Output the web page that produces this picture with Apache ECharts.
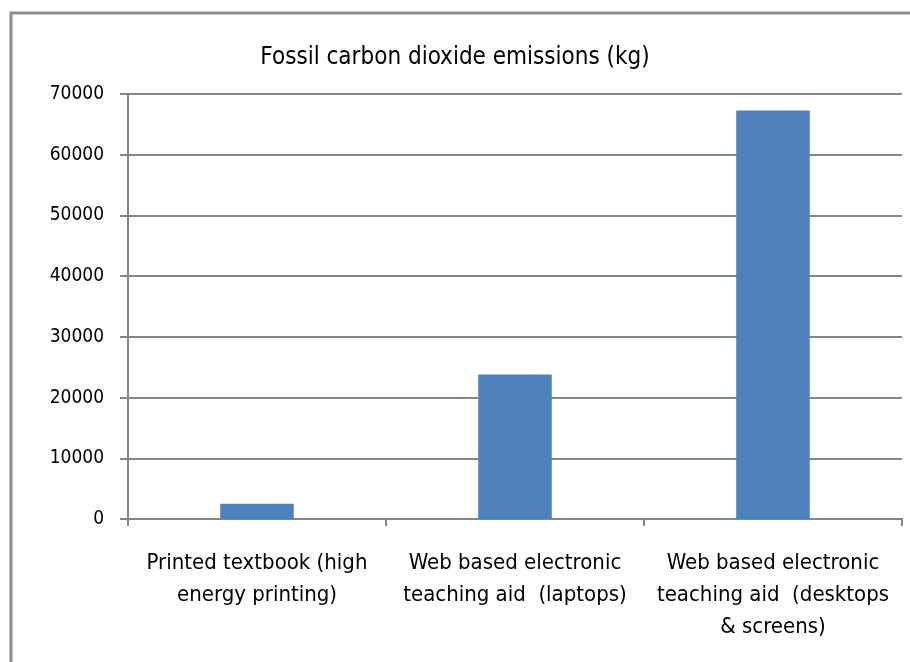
<!DOCTYPE html>
<html>
<head>
<meta charset="utf-8">
<script src="https://cdn.jsdelivr.net/npm/echarts@6/dist/echarts.min.js"></script>
<style>
  html, body { margin: 0; padding: 0; background: #fff; }
  #chart { width: 910px; height: 662px; }
</style>
</head>
<body>
<div id="chart"></div>
<script>
  var categories = [
    'Printed textbook (high\nenergy printing)',
    'Web based electronic\nteaching aid  (laptops)',
    'Web based electronic\nteaching aid  (desktops\n& screens)'
  ];
  var emissions = [2500, 23800, 67300];
  var yTicks = [0, 10000, 20000, 30000, 40000, 50000, 60000, 70000];

  var font = '"DejaVu Sans Condensed", sans-serif';
  var gray = '#868686';

  var chart = echarts.init(document.getElementById('chart'));

  chart.setOption({
    animation: false,
    title: {
      text: 'Fossil carbon dioxide emissions (kg)',
      left: 'center',
      top: 41,
      textStyle: { fontFamily: font, fontSize: 24, fontWeight: 'normal', color: '#000' }
    },
    graphic: [{
      type: 'rect',
      shape: { x: 11, y: 13, width: 960, height: 700 },
      style: { fill: null, stroke: '#8c8c8c', lineWidth: 3 },
      silent: true
    }],
    grid: { left: 128, right: 8, top: 94, bottom: 143 },
    xAxis: {
      type: 'category',
      data: categories,
      axisLine: { lineStyle: { color: gray, width: 2 } },
      axisTick: { show: true, length: 7, lineStyle: { color: gray, width: 2 } },
      axisLabel: {
        interval: 0,
        margin: 28,
        fontFamily: font,
        fontSize: 22,
        lineHeight: 32,
        color: '#000'
      }
    },
    yAxis: {
      type: 'value',
      min: yTicks[0],
      max: yTicks[yTicks.length - 1],
      interval: 10000,
      axisLine: { show: true, lineStyle: { color: gray, width: 2 } },
      axisTick: { show: true, length: 8, lineStyle: { color: gray, width: 2 } },
      splitLine: { lineStyle: { color: gray, width: 2 } },
      axisLabel: {
        margin: 24,
        fontFamily: font,
        fontSize: 19,
        color: '#000',
        formatter: function (v) { return String(v); }
      }
    },
    series: [{
      type: 'bar',
      data: emissions,
      barWidth: '28.5%',
      itemStyle: { color: '#4F81BD' }
    }]
  });
</script>
</body>
</html>
